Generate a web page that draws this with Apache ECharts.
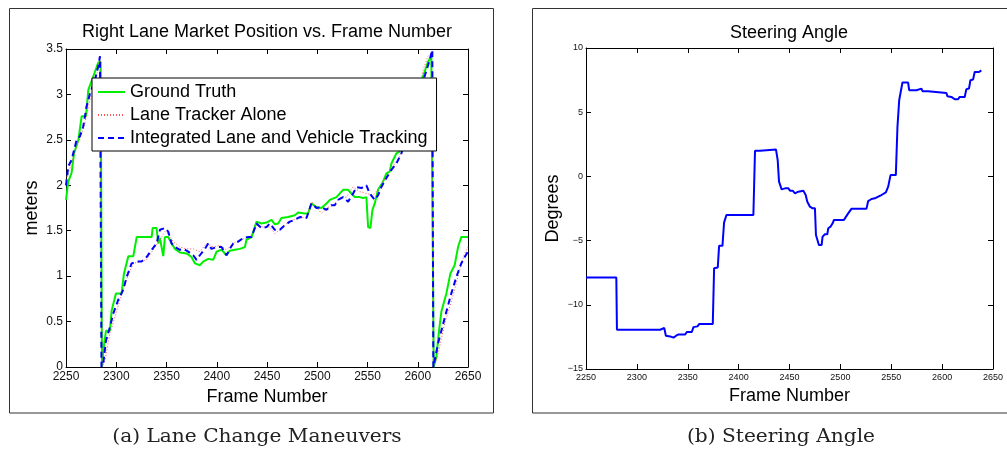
<!DOCTYPE html>
<html><head><meta charset="utf-8">
<script src="https://cdn.jsdelivr.net/npm/echarts@6/dist/echarts.min.js"></script>
<style>html,body{margin:0;padding:0;background:#fff}#c{width:1007px;height:453px}</style>
</head><body><div id="c"></div>
<script>
// ---------- Data: left chart (lane marker position, meters) ----------
const gtFrames = [
 2250, 2252.3, 2255.6, 2258, 2262.3, 2265.6, 2269.9, 2272.2, 2277.2, 2282.1,
 2284.5, 2285.8, 2287.1, 2289.8, 2293.7, 2295.4, 2299.7, 2305.3, 2307.7, 2312,
 2317, 2320.3, 2335.2, 2336.2, 2340.1, 2341.8, 2343.5, 2345.1, 2346.8, 2348.4,
 2351.7, 2355.1, 2358.4, 2363.3, 2370, 2374.9, 2378.3, 2383.2, 2386.5, 2391.5,
 2396.5, 2399.8, 2404.8, 2409.7, 2413, 2418, 2423, 2428, 2429.6, 2434.6,
 2439.6, 2444.5, 2449.5, 2454.5, 2457.8, 2461.1, 2464.4, 2471, 2477.7, 2481,
 2487.6, 2490.9, 2494.2, 2499.2, 2504.2, 2509.2, 2512.5, 2519.1, 2525.7, 2530.7,
 2534, 2537.3, 2542.3, 2545.6, 2548.9, 2550.6, 2552.9, 2554.9, 2557.2, 2560.5,
 2565.5, 2568.8, 2572.1, 2573.8, 2578.7, 2582, 2585.4, 2592, 2600, 2605.3,
 2610.2, 2613.5, 2615.3, 2615.9, 2618.5, 2621.2, 2623.5, 2628.5, 2632.5, 2636.7,
 2640.1, 2643.3, 2650];
const gtValues = [
 1.84, 2.04, 2.14, 2.35, 2.5, 2.76, 2.76, 3.05, 3.2, 3.35,
 3.36, 0, 0.18, 0.4, 0.4, 0.62, 0.81, 0.81, 1.03, 1.22,
 1.22, 1.43, 1.43, 1.53, 1.53, 1.36, 1.42, 1.32, 1.22, 1.43,
 1.43, 1.36, 1.30, 1.26, 1.25, 1.21, 1.14, 1.12, 1.16, 1.19,
 1.18, 1.27, 1.29, 1.23, 1.28, 1.29, 1.30, 1.32, 1.40, 1.43,
 1.60, 1.58, 1.59, 1.62, 1.57, 1.58, 1.64, 1.65, 1.67, 1.70,
 1.69, 1.69, 1.80, 1.76, 1.75, 1.80, 1.84, 1.87, 1.95, 1.95,
 1.91, 1.87, 1.87, 1.86, 1.87, 1.54, 1.53, 1.73, 1.80, 1.95,
 2.04, 2.13, 2.15, 2.24, 2.35, 2.37, 2.5, 2.7, 3.0, 3.2,
 3.36, 3.42, 3.42, 0, 0.11, 0.4, 0.61, 0.81, 1.03, 1.12,
 1.32, 1.43, 1.43];

const laneFrames = [
 2250, 2255.6, 2260.6, 2267.2, 2273.9, 2280.5, 2283.8, 2285.6, 2286.0, 2288.8,
 2293.7, 2298.7, 2303.7, 2310.3, 2316.9, 2323.6, 2330.2, 2336.8, 2343.5, 2348.4,
 2351.7, 2356.7, 2363.3, 2370, 2376.6, 2383.2, 2389.9, 2396.5, 2403.1, 2409.7,
 2416.4, 2423, 2429.6, 2436.2, 2439.6, 2446.2, 2452.8, 2457.8, 2462.8, 2469.4,
 2476, 2482.6, 2489.3, 2494.2, 2499.2, 2504.2, 2509.2, 2515.8, 2522.4, 2529,
 2535.7, 2542.3, 2548.9, 2555.6, 2562.2, 2568.8, 2575.4, 2582, 2590, 2598,
 2605.3, 2610.2, 2613.5, 2615.0, 2615.5, 2618.5, 2621.8, 2626.8, 2631.8, 2636.7,
 2641.7, 2646.7, 2650];
const laneValues = [
 2.06, 2.24, 2.43, 2.61, 2.94, 3.2, 3.4, 3.42, 0, 0.07,
 0.37, 0.55, 0.74, 0.96, 1.14, 1.16, 1.18, 1.29, 1.40, 1.49,
 1.47, 1.38, 1.32, 1.30, 1.30, 1.27, 1.36, 1.32, 1.34, 1.29,
 1.36, 1.40, 1.42, 1.47, 1.56, 1.54, 1.54, 1.47, 1.51, 1.58,
 1.62, 1.64, 1.65, 1.82, 1.76, 1.69, 1.75, 1.78, 1.86, 1.87,
 1.98, 1.93, 1.91, 1.89, 1.98, 2.10, 2.21, 2.32, 2.6, 2.9,
 3.27, 3.42, 3.46, 3.46, 0, 0.07, 0.22, 0.48, 0.66, 0.85,
 1.07, 1.25, 1.32];

const integFrames = [
 2250, 2252.3, 2255.6, 2260.6, 2263.9, 2267.2, 2270.5, 2273.9, 2278.8, 2282.1,
 2283.8, 2284.8, 2285.3, 2287.1, 2289.8, 2293.7, 2297.1, 2302, 2307, 2310.3,
 2315.3, 2320.3, 2325.2, 2330.2, 2335.2, 2340.1, 2343.5, 2348.4, 2351.7, 2355.1,
 2358.4, 2363.3, 2366.7, 2371.6, 2376.6, 2379.9, 2383.2, 2388.2, 2391.5, 2394.8,
 2399.8, 2404.8, 2409.7, 2413, 2416.4, 2421.3, 2426.3, 2431.3, 2434.6, 2439.6,
 2444.5, 2449.5, 2452.8, 2457.8, 2462.8, 2467.7, 2472.7, 2477.7, 2482.6, 2489.3,
 2494.2, 2499.2, 2504.2, 2509.2, 2514.1, 2517.4, 2520.8, 2525.7, 2530.7, 2535.7,
 2539, 2544, 2548.9, 2552.2, 2557.2, 2560.5, 2563.8, 2568.8, 2573.8, 2578.7,
 2583.7, 2592, 2600, 2606.9, 2611.9, 2614.5, 2615.0, 2615.5, 2616.9, 2620.2,
 2623.5, 2628.5, 2633.4, 2638.4, 2643.3, 2646.7, 2650];
const integValues = [
 2.0, 2.21, 2.28, 2.5, 2.54, 2.65, 2.87, 3.01, 3.16, 3.31,
 3.42, 3.42, 0, 0.04, 0.29, 0.44, 0.59, 0.74, 0.85, 0.99,
 1.14, 1.16, 1.16, 1.21, 1.29, 1.36, 1.51, 1.53, 1.49, 1.36,
 1.32, 1.29, 1.30, 1.27, 1.23, 1.18, 1.23, 1.30, 1.36, 1.30,
 1.32, 1.32, 1.23, 1.30, 1.36, 1.38, 1.42, 1.43, 1.43, 1.58,
 1.53, 1.54, 1.58, 1.51, 1.51, 1.56, 1.60, 1.62, 1.65, 1.64,
 1.80, 1.75, 1.76, 1.73, 1.78, 1.78, 1.84, 1.87, 1.82, 1.91,
 1.98, 1.97, 2.0, 1.91, 1.84, 1.89, 1.98, 2.08, 2.17, 2.24,
 2.35, 2.65, 2.95, 3.2, 3.38, 3.49, 3.49, 0, 0, 0.26,
 0.40, 0.61, 0.81, 0.99, 1.14, 1.21, 1.27];

// ---------- Data: right chart (steering angle, degrees) ----------
const steerFrames = [
 2250, 2279.8, 2280.4, 2322.9, 2324.6, 2326.9, 2328.5, 2332.7, 2336, 2338.6,
 2340.9, 2347.5, 2349.1, 2354, 2355.6, 2359.6, 2361.2, 2374.6, 2375.9, 2379.5,
 2380.8, 2384.1, 2385.7, 2387.4, 2388, 2414.5, 2416.1, 2421.1, 2422.7, 2436.7,
 2438.4, 2439.7, 2442.3, 2445.6, 2448.9, 2450.5, 2453.1, 2455.4, 2458.7, 2460.3,
 2463.6, 2465.9, 2467.5, 2470.1, 2472.7, 2475, 2476, 2477.6, 2478.9, 2481.6,
 2482.5, 2484.8, 2487.1, 2488.1, 2490.4, 2492.4, 2493.7, 2503.5, 2505.1, 2507.7,
 2509.4, 2511, 2525.7, 2527.3, 2530.6, 2533.9, 2537.2, 2540.4, 2544.7, 2547,
 2549.3, 2554.5, 2556.1, 2557.8, 2559.4, 2561, 2566.6, 2567.6, 2574.8, 2576.4,
 2579.7, 2580.7, 2586.2, 2587.2, 2604.2, 2605.2, 2609.1, 2612.4, 2615.7, 2617.3,
 2622.2, 2623.8, 2626.4, 2627.8, 2630.4, 2632, 2636.3, 2638.5];
const steerValues = [
 -7.88, -7.88, -11.94, -11.94, -11.81, -11.81, -12.41, -12.46, -12.56, -12.41,
 -12.31, -12.31, -12.12, -12.12, -11.74, -11.68, -11.5, -11.5, -7.15, -7.1,
 -5.41, -5.41, -3.6, -3.6, -3.0, -3.0, 2.0, 2.0, 2.1, 2.1,
 1.27, -0.41, -1.01, -0.93, -0.93, -1.11, -1.11, -1.32, -1.19, -1.11,
 -1.11, -1.45, -1.97, -2.36, -2.49, -2.49, -4.56, -4.61, -5.34, -5.34,
 -4.69, -4.51, -4.51, -4.04, -3.91, -3.65, -3.39, -3.39, -3.19, -2.88,
 -2.80, -2.51, -2.51, -1.92, -1.76, -1.71, -1.58, -1.45, -1.24, -0.80,
 0.10, 0.10, 3.86, 5.93, 5.98, 7.31, 7.31, 6.71, 6.71, 6.84,
 6.84, 6.63, 6.63, 6.50, 6.50, 6.24, 6.19, 6.01, 6.01, 6.19,
 6.19, 6.79, 6.84, 7.49, 7.54, 8.13, 8.13, 8.26];

const leftTitle = 'Right Lane Market Position vs. Frame Number';
const rightTitle = 'Steering Angle';
const xName = 'Frame Number';
const leftYName = 'meters';
const rightYName = 'Degrees';
const seriesNames = ['Ground Truth', 'Lane Tracker Alone', 'Integrated Lane and Vehicle Tracking'];
const captionA = '(a) Lane Change Maneuvers';
const captionB = '(b) Steering Angle';

// ---------- Build chart ----------
const zip = (xs, ys) => xs.map((x, i) => [x, ys[i]]);
const SANS = '"Liberation Sans", Arial, Helvetica, sans-serif';
const plainFmt = v => String(v);
const minusFmt = v => String(v).replace('-', '\u2212');

function axisBase(extra) {
  return Object.assign({
    type: 'value',
    axisLine: { show: true, onZero: false, lineStyle: { color: '#000', width: 1 } },
    axisTick: { show: true, inside: true, length: 5, lineStyle: { color: '#000', width: 1 } },
    splitLine: { show: false },
  }, extra);
}
function lbl(size, margin, fmt) {
  return { show: true, fontSize: size, color: '#111', fontFamily: SANS, margin: margin,
           showMinLabel: true, showMaxLabel: true, hideOverlap: false, formatter: fmt };
}
const nameStyle = { fontSize: 18, color: '#000', fontFamily: SANS };

const chart = echarts.init(document.getElementById('c'), null, { renderer: 'canvas' });
chart.setOption({
  animation: false,
  backgroundColor: '#fff',
  grid: [
    { left: 66, top: 49, width: 402, height: 318, containLabel: false },
    { left: 586, top: 48, width: 407, height: 321, containLabel: false }
  ],
  xAxis: [
    axisBase({ gridIndex: 0, position: 'bottom', min: 2250, max: 2650, interval: 50,
      axisLabel: lbl(12, 4, plainFmt), name: xName, nameLocation: 'middle', nameGap: 17, nameTextStyle: nameStyle }),
    axisBase({ gridIndex: 0, position: 'top', min: 2250, max: 2650, interval: 50, axisLabel: { show: false } }),
    axisBase({ gridIndex: 1, position: 'bottom', min: 2250, max: 2650, interval: 50,
      axisLabel: lbl(9, 4, plainFmt), name: xName, nameLocation: 'middle', nameGap: 16, nameTextStyle: nameStyle }),
    axisBase({ gridIndex: 1, position: 'top', min: 2250, max: 2650, interval: 50, axisLabel: { show: false } })
  ],
  yAxis: [
    axisBase({ gridIndex: 0, position: 'left', min: 0, max: 3.5, interval: 0.5,
      axisLabel: lbl(12, 3, plainFmt), name: leftYName, nameLocation: 'middle', nameGap: 25, nameTextStyle: nameStyle }),
    axisBase({ gridIndex: 0, position: 'right', min: 0, max: 3.5, interval: 0.5, axisLabel: { show: false } }),
    axisBase({ gridIndex: 1, position: 'left', min: -15, max: 10, interval: 5,
      axisLabel: lbl(9, 3, minusFmt), name: rightYName, nameLocation: 'middle', nameGap: 24, nameTextStyle: nameStyle }),
    axisBase({ gridIndex: 1, position: 'right', min: -15, max: 10, interval: 5, axisLabel: { show: false } })
  ],
  legend: {
    left: 92, top: 78, orient: 'vertical',
    padding: [5, 9, 4, 5], itemGap: 5, itemWidth: 27, itemHeight: 14,
    backgroundColor: '#fff', borderColor: '#000', borderWidth: 1, borderRadius: 0,
    textStyle: { fontSize: 18, color: '#000', fontFamily: SANS },
    itemStyle: { opacity: 0, borderWidth: 0 },
    data: seriesNames, selectedMode: false
  },
  series: [
    { name: seriesNames[0], type: 'line', xAxisIndex: 0, yAxisIndex: 0, data: zip(gtFrames, gtValues),
      symbol: 'none', showSymbol: false, lineStyle: { color: '#00ee00', width: 2 }, itemStyle: { color: '#00ee00' }, z: 2 },
    { name: seriesNames[1], type: 'line', xAxisIndex: 0, yAxisIndex: 0, data: zip(laneFrames, laneValues),
      symbol: 'none', showSymbol: false, lineStyle: { color: '#ff5555', width: 1, type: [1, 2] }, itemStyle: { color: '#ff5555' }, z: 3 },
    { name: seriesNames[2], type: 'line', xAxisIndex: 0, yAxisIndex: 0, data: zip(integFrames, integValues),
      symbol: 'none', showSymbol: false, lineStyle: { color: '#0000ff', width: 2, type: [6, 4] }, itemStyle: { color: '#0000ff' }, z: 3 },
    { name: 'Steering Angle', type: 'line', xAxisIndex: 2, yAxisIndex: 2, data: zip(steerFrames, steerValues),
      symbol: 'none', showSymbol: false, lineStyle: { color: '#0000ff', width: 2 }, itemStyle: { color: '#0000ff' } }
  ],
  graphic: [
    { type: 'rect', silent: true, z: 0, shape: { x: 9.5, y: 8.5, width: 484, height: 404.5 },
      style: { fill: 'none', stroke: '#333', lineWidth: 1 } },
    { type: 'rect', silent: true, z: 0, shape: { x: 532.5, y: 8.5, width: 490, height: 404.5 },
      style: { fill: 'none', stroke: '#333', lineWidth: 1 } },
    { type: 'text', silent: true, x: 267, y: 32,
      style: { text: leftTitle, font: '18px ' + SANS, fill: '#000', textAlign: 'center', textVerticalAlign: 'middle', align: 'center', verticalAlign: 'middle' } },
    { type: 'text', silent: true, x: 789, y: 33,
      style: { text: rightTitle, font: '18px ' + SANS, fill: '#000', textAlign: 'center', textVerticalAlign: 'middle', align: 'center', verticalAlign: 'middle' } },
    { type: 'text', silent: true, x: 257, y: 437, scaleX: 1.12,
      style: { text: captionA, font: '18px "DejaVu Serif", "Liberation Serif", serif', fill: '#222', textAlign: 'center', textVerticalAlign: 'middle', align: 'center', verticalAlign: 'middle' } },
    { type: 'text', silent: true, x: 781, y: 437, scaleX: 1.12,
      style: { text: captionB, font: '18px "DejaVu Serif", "Liberation Serif", serif', fill: '#222', textAlign: 'center', textVerticalAlign: 'middle', align: 'center', verticalAlign: 'middle' } }
  ]
});
</script>
</body></html>
